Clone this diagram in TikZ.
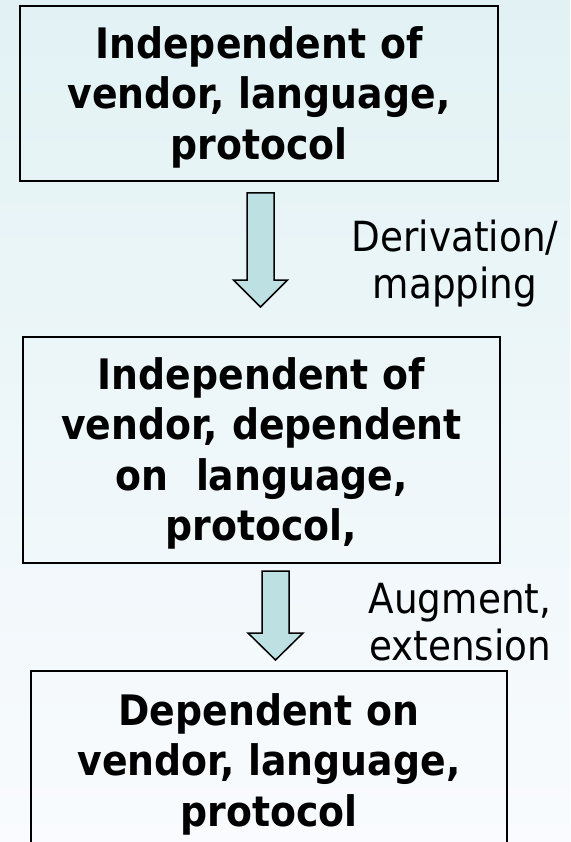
\documentclass[tikz,border=0pt]{standalone}
\usepackage{fontspec}
\setmainfont{DejaVu Sans Condensed}
\usetikzlibrary{calc}
\definecolor{bgtop}{HTML}{E2F2F4}
\definecolor{bgbot}{HTML}{F9FBFE}
\definecolor{arrowfill}{HTML}{BDE0E3}

\begin{document}
\begin{tikzpicture}[x=1pt,y=-1pt,
  stage/.style={draw=black, line width=2.6pt, rectangle, inner sep=0pt},
  stagetext/.style={anchor=base, text width=#1, align=center, inner sep=0pt,
    font=\fontsize{42}{50.5}\selectfont\bfseries},
  note/.style={anchor=base, text width=#1, inner sep=0pt, align=center,
    font=\fontsize{41.5}{47.5}\selectfont},
  flow/.style={draw=black, line width=1.5pt, fill=arrowfill, line join=miter}]

\useasboundingbox (0,0) rectangle (570,842);
\clip (0,0) rectangle (570,842);
\shade[top color=bgtop, bottom color=bgbot] (0,0) rectangle (570,842);

% the three stages
\node[stage, minimum width=478pt, minimum height=175pt] (b1) at (259,93.5) {};
\node[stage, minimum width=477pt, minimum height=226pt] (b2) at (261.5,450) {};
\node[stage, minimum width=476pt, minimum height=199pt] (b3) at (269,770.5) {};

\node[stagetext=470pt] (t1) at (259,58.5)
  {Independent of\\vendor, language,\\protocol};
\node[stagetext=470pt] (t2) at (261.5,389)
  {Independent of\\vendor, dependent\\on~~language,\\protocol,};
\node[stagetext=470pt] (t3) at (269,725)
  {Dependent on\\vendor, language,\\protocol};

% block arrows between the stages
\coordinate (a1top) at (260.5,193);
\coordinate (a1tip) at (260.5,307);
\coordinate (a2top) at (275.5,571);
\coordinate (a2tip) at (275.5,660);

\draw[flow] ($(a1top)+(-13.5,0)$) -- ($(a1tip)+(-13.5,-27)$) -- ($(a1tip)+(-27,-27)$)
  -- (a1tip) -- ($(a1tip)+(27,-27)$) -- ($(a1tip)+(13.5,-27)$)
  -- ($(a1top)+(13.5,0)$) -- cycle;
\draw[flow] ($(a2top)+(-13.5,0)$) -- ($(a2tip)+(-13.5,-27)$) -- ($(a2tip)+(-27.5,-27)$)
  -- (a2tip) -- ($(a2tip)+(27.5,-27)$) -- ($(a2tip)+(13.5,-27)$)
  -- ($(a2top)+(13.5,0)$) -- cycle;

% arrow labels
\node[note=220pt] (l1) at (455,251) {Derivation/\\mapping};
\node[note=200pt] (l2) at (460,613) {Augment,\\extension};
\end{tikzpicture}
\end{document}
